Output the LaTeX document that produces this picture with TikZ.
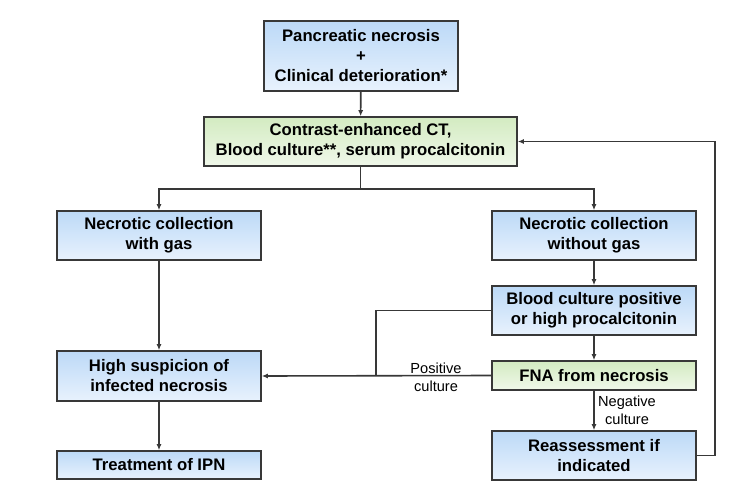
\documentclass[tikz,border=0pt]{standalone}
\usepackage{fontspec}
\setmainfont{Liberation Sans}
\usetikzlibrary{arrows.meta}
\definecolor{blueTop}{HTML}{BCD9F7}
\definecolor{blueBot}{HTML}{E8F2FD}
\definecolor{greenTop}{HTML}{D3EBC1}
\definecolor{greenBot}{HTML}{F0F8EA}
\definecolor{edgeGray}{HTML}{383838}
\begin{document}
\begin{tikzpicture}[x=1pt,y=-1pt,
    box/.style={draw=edgeGray,line width=1.6pt,align=center,inner sep=0pt,
        font=\fontsize{16.7}{20}\selectfont\bfseries},
    bluebox/.style={box,top color=blueTop,bottom color=blueBot},
    greenbox/.style={box,top color=greenTop,bottom color=greenBot},
    arr/.style={draw=edgeGray,line width=1.6pt,-{Latex[length=6pt,width=5pt]}},
    link/.style={draw=edgeGray,line width=1.6pt},
    note/.style={align=center,inner sep=0pt,font=\fontsize{14.6}{18}\selectfont}]
    \useasboundingbox (0,0) rectangle (750,501);

    % Start and first examination
    \node[bluebox,minimum width=194pt,minimum height=70pt] (start) at (361,56)
        {Pancreatic necrosis\\+\\Clinical deterioration*};
    \node[greenbox,minimum width=313pt,minimum height=49pt] (exam) at (360.5,141.5)
        {Contrast-enhanced CT,\\Blood culture**, serum procalcitonin};

    % Left branch: gas in the collection
    \node[bluebox,minimum width=204pt,minimum height=49pt] (gas) at (159,235.5)
        {Necrotic collection\\with gas};
    \node[bluebox,minimum width=204pt,minimum height=50pt] (suspect) at (159,376)
        {High suspicion of\\infected necrosis};
    \node[bluebox,minimum width=204pt,minimum height=28pt] (treat) at (159,465)
        {Treatment of IPN};

    % Right branch: no gas
    \node[bluebox,minimum width=204pt,minimum height=49pt] (nogas) at (594,235.5)
        {Necrotic collection\\without gas};
    \node[bluebox,minimum width=204pt,minimum height=49pt] (blood) at (594,310.5)
        {Blood culture positive\\or high procalcitonin};
    \node[greenbox,minimum width=204pt,minimum height=29pt] (fna) at (594,375.5)
        {FNA from necrosis};
    \node[bluebox,minimum width=204pt,minimum height=49pt] (reassess) at (594,455.5)
        {Reassessment if\\indicated};

    % Connectors
    \draw[arr] (start) -- (exam);
    \draw[arr] (exam.south) -- ++(0,22) -| (gas.north);
    \draw[arr] (exam.south) -- ++(0,22) -| (nogas.north);
    \draw[arr] (gas) -- (suspect);
    \draw[arr] (suspect) -- (treat);
    \draw[arr] (nogas) -- (blood);
    \draw[arr] (blood) -- (fna);
    \draw[arr] (fna) -- (reassess);
    \draw[arr] (fna.west) -- (suspect.east);
    \coordinate (join) at (376,376);
    \draw[link] (blood.west) -| (join);
    \coordinate (loop) at (715,455.5);
    \draw[arr] (reassess.east) -- (loop) |- (exam.east);

    % Labels
    \node[note] (pos) at (436,377) {Positive\\culture};
    \node[note,anchor=west] (neg) at (598,410.5) {Negative\\culture};
\end{tikzpicture}
\end{document}
